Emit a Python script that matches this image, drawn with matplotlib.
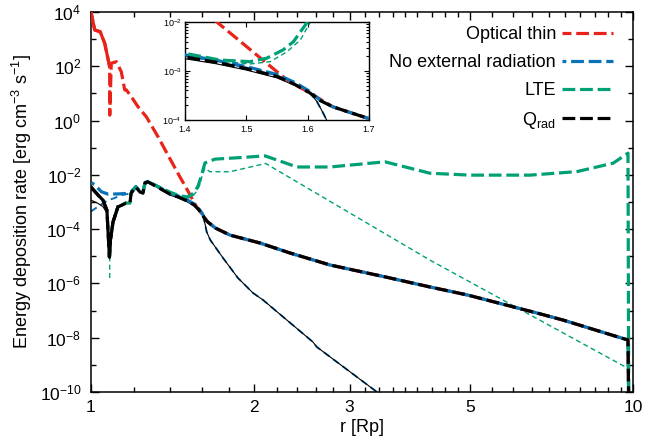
import numpy as np
import matplotlib
matplotlib.use("Agg")
import matplotlib.pyplot as plt
from matplotlib.ticker import FixedLocator, FixedFormatter, NullFormatter, LogFormatterSciNotation, LogLocator

plt.rcParams['font.family'] = 'Liberation Sans'
plt.rcParams['mathtext.fontset'] = 'custom'
plt.rcParams['mathtext.rm'] = 'Liberation Sans'
plt.rcParams['mathtext.it'] = 'Liberation Sans:italic'
plt.rcParams['mathtext.default'] = 'regular'

RED = '#e8231a'
BLUE = '#0a72b6'
GREEN = '#00a077'
BLACK = 'black'

# values: r [Rp] and log10 of the rate
# optical thin (thick dashed red)
ot_r = [1.0, 1.016, 1.040, 1.060, 1.0826, 1.0830, 1.090, 1.1135, 1.1374, 1.154, 1.162, 1.187,
        1.221, 1.265, 1.329, 1.40, 1.452, 1.509, 1.566, 1.604, 1.641, 1.67, 1.697, 1.805,
        2.05, 2.33, 2.76, 3.49, 4.22, 4.96, 6.65, 7.43, 9.79, 9.82]
ot_q = [4.0, 3.34, 3.27, 2.85, 1.98, 0.20, 2.11, 2.17, 1.80, 1.13, 1.13, 0.88,
        0.51, 0.14, -0.59, -1.42, -2.0, -2.59, -3.18, -3.45, -3.73, -3.85, -3.96, -4.22,
        -4.51, -4.88, -5.32, -5.76, -6.13, -6.43, -7.09, -7.35, -8.085, -10.5]

# no external radiation (thick dashed blue)
ne_r = [1.0, 1.016, 1.045, 1.075, 1.13, 1.17, 1.186, 1.21, 1.231, 1.247, 1.258, 1.274,
        1.40, 1.45, 1.50, 1.55, 1.58, 1.604, 1.62, 1.641, 1.67, 1.697, 1.805, 2.05, 2.33,
        2.76, 3.49, 4.22, 4.96, 6.65, 7.43, 9.79, 9.82]
ne_q = [-2.28, -2.37, -2.62, -2.71, -2.70, -2.68, -2.62, -2.43, -2.60, -2.64, -2.28, -2.24,
        -2.67, -2.78, -2.91, -3.07, -3.24, -3.42, -3.59, -3.73, -3.85, -3.96, -4.22, -4.51, -4.88,
        -5.32, -5.76, -6.13, -6.43, -7.09, -7.35, -8.085, -10.5]

# LTE (thick dashed green)
lte_r = [1.0826, 1.086, 1.098, 1.121, 1.160, 1.180, 1.186, 1.210, 1.231, 1.247, 1.258, 1.274,
         1.40, 1.457, 1.506, 1.533, 1.56, 1.577, 1.598, 1.623, 1.694, 1.90, 2.094, 2.399,
         2.761, 3.487, 4.222, 5.0, 6.457, 7.88, 9.19, 9.79, 9.82]
lte_q = [-5.0, -4.40, -3.74, -3.185, -3.04, -3.04, -2.67, -2.45, -2.63, -2.67, -2.30, -2.26,
         -2.64, -2.776, -2.81, -2.74, -2.57, -2.40, -2.03, -1.56, -1.42, -1.36, -1.30, -1.71,
         -1.71, -1.52, -1.94, -2.01, -2.01, -1.88, -1.57, -1.20, -10.5]

# Qrad (thick dashed black)
q_r = [1.0, 1.030, 1.052, 1.070, 1.0815, 1.086, 1.098, 1.121, 1.160, 1.180, 1.186, 1.210,
       1.231, 1.247, 1.258, 1.274, 1.40, 1.45, 1.50, 1.55, 1.58, 1.604, 1.62, 1.641, 1.67,
       1.697, 1.805, 2.05, 2.33, 2.76, 3.49, 4.22, 4.96, 6.65, 7.43, 9.79, 9.82]
q_q = [-2.45, -2.74, -2.93, -3.30, -5.03, -4.40, -3.74, -3.185, -3.04, -3.04, -2.67, -2.45,
       -2.63, -2.67, -2.30, -2.26, -2.714, -2.82, -2.95, -3.11, -3.28, -3.45, -3.60, -3.73, -3.85,
       -3.96, -4.22, -4.51, -4.88, -5.32, -5.76, -6.13, -6.43, -7.09, -7.35, -8.085, -10.5]

# thin unlabeled curves
lte2_r = [1.0826, 1.0826, 1.086, 1.098, 1.121, 1.160, 1.180, 1.186, 1.210, 1.231, 1.247, 1.258,
          1.274, 1.40, 1.468, 1.506, 1.539, 1.566, 1.588, 1.604, 1.623, 1.658, 1.805, 2.08, 2.10,
          4.22, 9.79]
lte2_q = [-5.8, -5.0, -4.40, -3.74, -3.185, -3.04, -3.04, -2.67, -2.45, -2.63, -2.67, -2.30,
          -2.26, -2.67, -2.81, -2.857, -2.81, -2.61, -2.37, -2.01, -1.76, -1.885, -1.885, -1.60, -1.58,
          -5.14, -9.13]

q2_r = [1.0, 1.030, 1.052, 1.070, 1.0815, 1.086, 1.098, 1.121, 1.160, 1.180, 1.186, 1.210,
        1.231, 1.247, 1.258, 1.274, 1.40, 1.45, 1.50, 1.55, 1.58, 1.604, 1.615, 1.625, 1.635,
        1.66, 1.752, 1.867, 1.99, 2.077, 2.568, 2.61, 3.37, 3.6]
q2_q = [-2.93, -3.05, -3.17, -3.40, -5.03, -4.40, -3.74, -3.185, -3.04, -3.04, -2.67, -2.45,
        -2.63, -2.67, -2.30, -2.26, -2.75, -2.85, -2.98, -3.14, -3.30, -3.45, -3.62, -3.85, -4.10,
        -4.40, -5.06, -5.80, -6.35, -6.61, -8.16, -8.34, -10.0, -10.6]

ne2_r = [1.0, 1.03, 1.075, 1.104, 1.13, 1.17, 1.186, 1.21, 1.231, 1.247, 1.258, 1.274,
         1.40, 1.45, 1.50, 1.55, 1.58, 1.604, 1.615, 1.625, 1.635, 1.66, 1.752, 1.867, 1.99,
         2.077, 2.568, 2.61, 3.37, 3.6]
ne2_q = [-3.35, -3.17, -2.93, -2.86, -2.76, -2.70, -2.64, -2.45, -2.61, -2.65, -2.29, -2.25,
         -2.69, -2.80, -2.93, -3.09, -3.26, -3.45, -3.62, -3.85, -4.10, -4.40, -5.06, -5.80, -6.35,
         -6.61, -8.16, -8.34, -10.0, -10.6]

labels = ['Optical thin', 'No external radiation', 'LTE', r'Q$_{\mathrm{rad}}$']

LW = 2.3
DASH = (4.0, 1.5)


def draw(ax, with_labels=True):
    p = lambda v: 10.0 ** np.array(v)
    ax.plot(ne2_r, p(ne2_q), color=BLUE, lw=1.4, ls=(0, (3.6, 2.4)), zorder=2)
    ax.plot(q2_r, p(q2_q), color=BLACK, lw=0.8, zorder=2.5)
    ax.plot(lte2_r, p(lte2_q), color=GREEN, lw=1.0, ls=(0, (3.6, 2.4)), zorder=2.2)
    ax.plot(ot_r, p(ot_q), color=RED, lw=LW, ls=(1.2, DASH), zorder=3,
            label=labels[0] if with_labels else None)
    ax.plot(ot_r[:5], p(ot_q[:5]), color=RED, lw=LW, zorder=3)
    ax.plot(ne_r, p(ne_q), color=BLUE, lw=LW, ls=(2.8, DASH), zorder=4,
            label=labels[1] if with_labels else None)
    ax.plot(lte_r, p(lte_q), color=GREEN, lw=LW, ls=(0, DASH), zorder=5,
            label=labels[2] if with_labels else None)
    ax.plot(q_r, p(q_q), color=BLACK, lw=LW, ls=(0, DASH), zorder=6,
            label=labels[3] if with_labels else None)
    ax.plot(q_r[:8], p(q_q[:8]), color=BLACK, lw=LW, zorder=6)


fig = plt.figure(figsize=(6.68, 4.41), dpi=100)
ax = fig.add_axes([0.1362, 0.1111, 0.8114, 0.8617])
ax.set_xscale('log')
ax.set_yscale('log')
draw(ax)
ax.set_xlim(1, 10)
ax.set_ylim(1e-10, 1e4)

ax.xaxis.set_major_locator(FixedLocator([1, 2, 3, 5, 10]))
ax.xaxis.set_major_formatter(FixedFormatter(['1', '2', '3', '5', '10']))
ax.xaxis.set_minor_locator(FixedLocator([1.2, 1.4, 1.6, 1.8, 2.2, 2.4, 2.6, 2.8, 3.2, 3.4, 3.6,
                                         3.8, 4, 4.25, 4.5, 4.75, 5.5, 6, 6.5, 7, 7.5, 8, 8.5,
                                         9, 9.5]))
ax.xaxis.set_minor_formatter(NullFormatter())
ax.yaxis.set_major_locator(FixedLocator(10.0 ** np.arange(-10, 5, 2)))
ax.yaxis.set_major_formatter(LogFormatterSciNotation())
ax.yaxis.set_minor_locator(FixedLocator(10.0 ** np.arange(-9, 4, 2)))
ax.yaxis.set_minor_formatter(NullFormatter())
ax.tick_params(which='both', direction='in', top=True, right=True, labelsize=12.5, width=1)
ax.tick_params(which='major', length=6)
ax.tick_params(which='minor', length=3.5)
ax.tick_params(axis='y', pad=7)
ax.tick_params(axis='x', pad=6)
for s in ax.spines.values():
    s.set_linewidth(1.1)

ax.set_xlabel('r [Rp]', fontsize=13)
ax.set_ylabel('Energy deposition rate [erg cm$^{-3}$ s$^{-1}$]', fontsize=13)
ax.yaxis.set_label_coords(-0.105, 0.5)
ax.xaxis.set_label_coords(0.5, -0.07)

leg = ax.legend(loc='upper right', bbox_to_anchor=(0.986, 0.996), frameon=False,
                markerfirst=False, fontsize=13, handlelength=2.8, handletextpad=0.35,
                labelspacing=0.6, borderpad=0.2)

# inset
ins = fig.add_axes([0.2769, 0.7279, 0.2754, 0.2222])
ins.set_yscale('log')
draw(ins, with_labels=False)
ins.set_xlim(1.4, 1.7)
ins.set_ylim(1e-4, 1e-2)
ins.xaxis.set_major_locator(FixedLocator([1.4, 1.5, 1.6, 1.7]))
ins.xaxis.set_major_formatter(FixedFormatter(['1.4', '1.5', '1.6', '1.7']))
ins.yaxis.set_major_locator(FixedLocator([1e-4, 1e-3, 1e-2]))
ins.yaxis.set_major_formatter(LogFormatterSciNotation())
ins.yaxis.set_minor_locator(LogLocator(base=10, subs=np.arange(2, 10)))
ins.yaxis.set_minor_formatter(NullFormatter())
ins.tick_params(which='both', direction='in', top=True, right=True, labelsize=6.5, width=0.8)
ins.tick_params(which='major', length=3.5)
ins.tick_params(which='minor', length=2)
ins.tick_params(axis='x', pad=3.5)
ins.tick_params(axis='y', pad=2.5)
for s in ins.spines.values():
    s.set_linewidth(1.0)

fig.savefig('out.png', dpi=100)
